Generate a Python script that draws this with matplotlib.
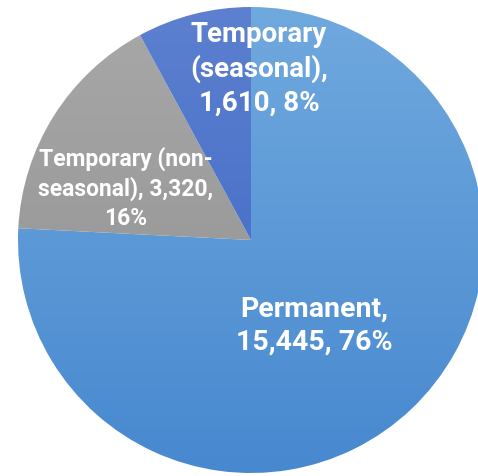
import numpy as np
import matplotlib.pyplot as plt
from matplotlib.colors import LinearSegmentedColormap

labels = ["Permanent", "Temporary (non-\nseasonal)", "Temporary\n(seasonal)"]
values = [15445, 3320, 1610]

total = sum(values)
pcts = [v / total * 100 for v in values]

# gradient colours (top, bottom) per slice
grads = [("#70a9de", "#4788cf"), ("#a8a8a8", "#8e8e8e"), ("#5d80d0", "#3665c2")]

fig = plt.figure(figsize=(4.78, 4.77), dpi=100)
ax = fig.add_axes([0, 0, 1, 1])

cx, cy, r = 251, 236, 233
wedges, _ = ax.pie(values, center=(cx, cy), radius=r, startangle=90,
                   counterclock=False, frame=True,
                   wedgeprops=dict(linewidth=0))
ax.set_xlim(0, 478)
ax.set_ylim(0, 477)
ax.set_aspect("equal")
ax.axis("off")

grad = np.linspace(1, 0, 256).reshape(-1, 1)
for w, (top, bot) in zip(wedges, grads):
    w.set_facecolor("none")
    cmap = LinearSegmentedColormap.from_list("g", [bot, top])
    im = ax.imshow(grad, cmap=cmap, extent=(cx - r, cx + r, cy - r, cy + r),
                   aspect="auto", origin="upper", vmin=0, vmax=1, zorder=1)
    im.set_clip_path(w)

txt = dict(color="white", fontweight="bold", family="Roboto",
           ha="center", va="center", zorder=3)
# label layout: x, y, font size
pos = [(314, 151, 20.5), (126, 289, 16.5), (259, 408, 20)]
for lab, v, p, (x, y, fs) in zip(labels, values, pcts, pos):
    if "non" in lab:
        s = f"{lab}, {v:,},\n{p:.0f}%"
    else:
        s = f"{lab},\n{v:,}, {p:.0f}%"
    ax.text(x, y, s, fontsize=fs, linespacing=1.3, **txt)

fig.savefig("out.png", dpi=100)
